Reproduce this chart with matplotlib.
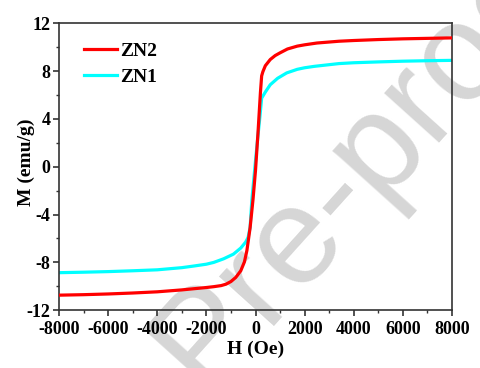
import numpy as np
import matplotlib
matplotlib.use("Agg")
import matplotlib.pyplot as plt
from matplotlib.ticker import MultipleLocator

# Data
H_zn2 = [-8000, -7000, -6000, -5000, -4000, -3000, -2000, -1700, -1400, -1200, -1000, -800,
         -600, -450, -350, -220, -100, 0, 100, 200, 250, 300, 400, 600, 800, 1000, 1300,
         1700, 2000, 2500, 3400, 4000, 5000, 6000, 7000, 8000]
M_zn2 = [-10.74, -10.70, -10.64, -10.56, -10.46, -10.30, -10.10, -10.03, -9.94, -9.82, -9.60,
         -9.25, -8.70, -7.95, -7.00, -5.10, -2.70, -0.30, 2.80, 6.20, 7.60, 7.95, 8.45, 8.97,
         9.30, 9.53, 9.85, 10.09, 10.20, 10.35, 10.50, 10.56, 10.64, 10.70, 10.74, 10.78]

H_zn1 = [-8000, -7000, -6000, -5000, -4000, -3000, -2500, -2000, -1700, -1300, -900, -600,
         -400, -300, -220, -150, 0, 100, 180, 250, 400, 600, 900, 1270, 1700, 2000, 2400,
         3400, 4000, 5000, 6000, 7000, 8000]
M_zn1 = [-8.86, -8.82, -8.77, -8.70, -8.62, -8.44, -8.30, -8.15, -8.00, -7.70, -7.31, -6.80,
         -6.30, -5.90, -5.07, -2.82, 0.50, 2.60, 4.20, 5.74, 6.25, 6.86, 7.40, 7.85, 8.15,
         8.28, 8.40, 8.63, 8.70, 8.77, 8.83, 8.87, 8.90]

labels = ["ZN2", "ZN1"]
colors = ["#ff0000", "#00ffff"]

plt.rcParams['font.family'] = ['Liberation Serif', 'DejaVu Serif']
plt.rcParams['font.weight'] = 'bold'
plt.rcParams['axes.unicode_minus'] = False

fig = plt.figure(figsize=(4.81, 3.68), dpi=100)
ax = fig.add_axes([0.1227, 0.157, 0.8170, 0.7797])
ax.set_zorder(1)
ax.set_facecolor("none")

# watermark
fig.text(0.423, -0.066, "Pre-proof", fontsize=100, color="#d6d6d6",
         family="Liberation Sans", weight="normal", rotation=48,
         rotation_mode="anchor", ha="left", va="baseline", zorder=0)

ax.plot(H_zn2, M_zn2, color=colors[0], lw=2.3, label=labels[0], zorder=3)
ax.plot(H_zn1, M_zn1, color=colors[1], lw=2.3, label=labels[1], zorder=2)

ax.set_xlim(-8000, 8000)
ax.set_ylim(-12, 12)
ax.xaxis.set_major_locator(MultipleLocator(2000))
ax.xaxis.set_minor_locator(MultipleLocator(1000))
ax.yaxis.set_major_locator(MultipleLocator(4))
ax.yaxis.set_minor_locator(MultipleLocator(2))
ax.tick_params(which='major', direction='out', length=4, width=1.2, labelsize=13,
               color="#333333", pad=2)
ax.tick_params(axis='x', which='major', pad=3.5)
ax.tick_params(which='minor', direction='out', length=2.5, width=1.0, color="#333333")
for lab in ax.get_xticklabels() + ax.get_yticklabels():
    lab.set_fontweight('bold')
for s in ax.spines.values():
    s.set_color("#333333")
    s.set_linewidth(1.2)

ax.set_xlabel("H (Oe)", fontsize=14, fontweight='bold', labelpad=2)
ax.set_ylabel("M (emu/g)", fontsize=14, fontweight='bold')
ax.yaxis.set_label_coords(-0.062, 0.515)

leg = ax.legend(loc='upper left', bbox_to_anchor=(0.02, 0.995), frameon=False,
                handlelength=1.7, handletextpad=0.15, labelspacing=0.45,
                prop={'weight': 'bold', 'size': 14})

fig.savefig("out.png", dpi=100)
